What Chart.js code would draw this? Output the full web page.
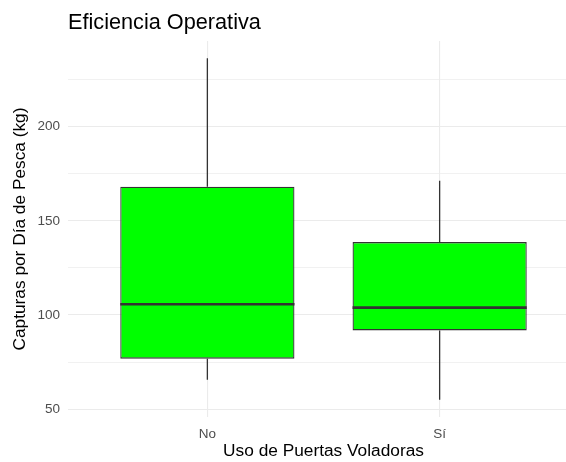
<!DOCTYPE html>
<html>
<head>
<meta charset="utf-8">
<script src="https://cdn.jsdelivr.net/npm/chart.js@4"></script>
<style>
  html, body { margin: 0; padding: 0; background: #fff; overflow: hidden; }
  #wrap { width: 585px; height: 462px; position: relative; }
</style>
</head>
<body>
<div id="wrap"><canvas id="chart"></canvas></div>
<script>
// data
const categories = ['No', 'Sí'];
const whiskerLow = [65.6, 54.9];
const q1 = [76.8, 91.8];
const median = [105.7, 103.9];
const q3 = [168.1, 138.7];
const whiskerHigh = [236.4, 171.3];

const yTicks = [50, 75, 100, 125, 150, 175, 200, 225];
const yMajor = [50, 100, 150, 200];

const BOX_WIDTH = 0.75;
const LINE = '#333333';
const FONT = "'Liberation Sans', Arial, sans-serif";

Chart.defaults.font.family = FONT;

// boxes as floating bars
const boxData = categories.map((c, i) => ({ x: i, y: [q1[i], q3[i]] }));

// whiskers: lower and upper segment per category
const whiskerData = [];
categories.forEach((c, i) => {
  whiskerData.push({ x: i, y: whiskerLow[i] }, { x: i, y: q1[i] }, { x: i, y: null });
  whiskerData.push({ x: i, y: q3[i] }, { x: i, y: whiskerHigh[i] }, { x: i, y: null });
});

// median lines across the box
const medianData = [];
categories.forEach((c, i) => {
  medianData.push({ x: i - BOX_WIDTH / 2, y: median[i] }, { x: i + BOX_WIDTH / 2, y: median[i] }, { x: i, y: null });
});

new Chart(document.getElementById('chart'), {
  data: {
    datasets: [
      {
        type: 'line', data: medianData, order: 0,
        borderColor: LINE, borderWidth: 2.6, pointRadius: 0, spanGaps: false
      },
      {
        type: 'bar', data: boxData, order: 1,
        backgroundColor: '#00ff00', borderColor: LINE, borderWidth: 1.3,
        borderSkipped: false, categoryPercentage: BOX_WIDTH, barPercentage: 1
      },
      {
        type: 'line', data: whiskerData, order: 2,
        borderColor: LINE, borderWidth: 1.3, pointRadius: 0, spanGaps: false
      }
    ]
  },
  options: {
    responsive: true,
    maintainAspectRatio: false,
    animation: false,
    layout: { padding: { left: 0, right: 6, top: 0, bottom: 0 } },
    plugins: {
      legend: { display: false },
      tooltip: { enabled: false },
      title: {
        display: true,
        text: 'Eficiencia Operativa',
        align: 'start',
        fullSize: false,
        color: '#000',
        font: { size: 21.7, weight: 'normal' },
        padding: { top: 10, bottom: 5 }
      }
    },
    scales: {
      x: {
        type: 'linear',
        min: -0.6,
        max: 1.6,
        offset: false,
        afterBuildTicks: s => { s.ticks = categories.map((c, i) => ({ value: i })); },
        afterFit: s => { s.height = 45; },
        grid: { color: '#ebebeb', lineWidth: 1.1, drawTicks: false, offset: false },
        border: { display: false },
        ticks: {
          callback: v => categories[v],
          color: '#4d4d4d',
          font: { size: 13.5 },
          padding: 9,
          maxRotation: 0
        },
        title: {
          display: true,
          text: 'Uso de Puertas Voladoras',
          color: '#000',
          font: { size: 17.3 },
          padding: { top: 0, bottom: 0 }
        }
      },
      y: {
        min: 45.8,
        max: 245.5,
        afterBuildTicks: s => { s.ticks = yTicks.map(v => ({ value: v })); },
        afterFit: s => { s.width = 68; },
        grid: {
          color: '#ebebeb',
          lineWidth: ctx => yMajor.includes(ctx.tick && ctx.tick.value) ? 1.1 : 0.7,
          drawTicks: false
        },
        border: { display: false },
        ticks: {
          callback: v => yMajor.includes(v) ? v : '',
          color: '#4d4d4d',
          font: { size: 13.5 },
          padding: 8
        },
        title: {
          display: true,
          text: 'Capturas por Día de Pesca (kg)',
          color: '#000',
          font: { size: 17.3 },
          padding: { top: 10, bottom: 0 }
        }
      }
    }
  }
});
</script>
</body>
</html>
